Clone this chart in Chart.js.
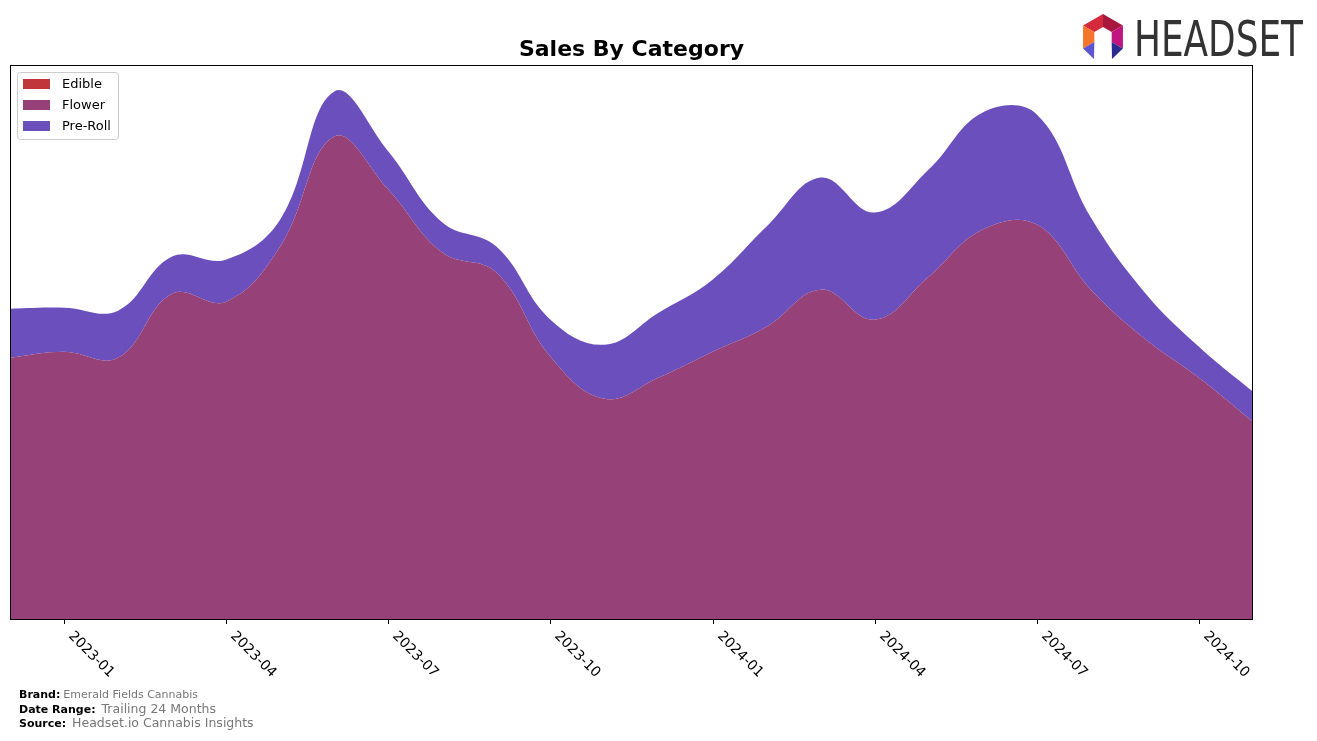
<!DOCTYPE html>
<html>
<head>
<meta charset="utf-8">
<title>Sales By Category</title>
<script src="https://cdn.jsdelivr.net/npm/chart.js@4.4.1/dist/chart.umd.min.js"></script>
<style>
  body { margin: 0; background: #fff; }
  canvas { display: block; }
</style>
</head>
<body>
<canvas id="salesChart" width="1317" height="741"></canvas>
<script>
// monthly points, Dec 2022 .. Nov 2024
var months = ['2022-12', '2023-01', '2023-02', '2023-03', '2023-04', '2023-05', '2023-06', '2023-07',
              '2023-08', '2023-09', '2023-10', '2023-11', '2023-12', '2024-01', '2024-02', '2024-03',
              '2024-04', '2024-05', '2024-06', '2024-07', '2024-08', '2024-09', '2024-10', '2024-11'];
var tickMonths = ['2023-01', '2023-04', '2023-07', '2023-10', '2024-01', '2024-04', '2024-07', '2024-10'];

var edible  = [0, 0, 0, 0, 0, 0, 0, 0, 0, 0, 0, 0, 0, 0, 0, 0, 0, 0, 0, 0, 0, 0, 0, 0];
var flower  = [262, 268, 262, 326, 318, 373, 483, 430, 367, 347, 263, 221,
               242, 268, 293, 330, 300, 343, 390, 395, 330, 281, 242, 198];
var preRoll = [49, 44, 47, 37, 42, 27, 45, 38, 30, 26, 37, 54,
               65, 72, 100, 112, 107, 107, 117, 110, 72, 46, 31, 30];

var seriesNames = ['Edible', 'Flower', 'Pre-Roll'];

var footerRows = [
  ['Brand:', 'Emerald Fields Cannabis'],
  ['Date Range:', 'Trailing 24 Months'],
  ['Source:', 'Headset.io Cannabis Insights']
];

var totals = flower.map(function (v, i) { return v + preRoll[i] + edible[i]; });
var yTop = Math.max.apply(null, totals) * 1.05;

function drawLogo(ctx) {
  var cx = 1103, cy = 37, R = 23, r = 10;
  function pt(rad, deg) {
    var a = deg * Math.PI / 180;
    return [cx + rad * Math.cos(a), cy + rad * Math.sin(a)];
  }
  function face(a1, a2, color) {
    var p = [pt(R, a1), pt(R, a2), pt(r, a2), pt(r, a1)];
    ctx.fillStyle = color;
    ctx.beginPath();
    ctx.moveTo(p[0][0], p[0][1]);
    for (var i = 1; i < p.length; i++) ctx.lineTo(p[i][0], p[i][1]);
    ctx.closePath();
    ctx.fill();
  }
  face(210, 270, '#d42a3c');
  face(270, 330, '#a8183e');
  face(150, 210, '#f4762a');
  face(330, 390, '#c0157e');
  // legs
  var ll = pt(R, 150), li = pt(r, 150), rl = pt(R, 30), ri = pt(r, 30);
  ctx.fillStyle = '#5b55d2';
  ctx.beginPath();
  ctx.moveTo(ll[0], ll[1]); ctx.lineTo(li[0], li[1]); ctx.lineTo(cx - 9, cy + 22); ctx.closePath(); ctx.fill();
  ctx.fillStyle = '#2c2a8e';
  ctx.beginPath();
  ctx.moveTo(rl[0], rl[1]); ctx.lineTo(ri[0], ri[1]); ctx.lineTo(cx + 9, cy + 22); ctx.closePath(); ctx.fill();

  ctx.fillStyle = '#333333';
  ctx.font = '50px "Liberation Sans Narrow", "DejaVu Sans Condensed", sans-serif';
  ctx.textAlign = 'left';
  ctx.textBaseline = 'alphabetic';
  ctx.fillText('HEADSET', 1134, 56, 169);
}

var decorations = {
  id: 'decorations',
  afterDraw: function (chart) {
    var ctx = chart.ctx, area = chart.chartArea, xs = chart.scales.x;
    ctx.save();

    // frame
    ctx.strokeStyle = '#000';
    ctx.lineWidth = 1;
    ctx.strokeRect(area.left + 0.5, area.top + 0.5, area.right - area.left - 1, area.bottom - area.top - 1);

    // x ticks and rotated labels
    ctx.font = '14px "DejaVu Sans"';
    ctx.fillStyle = '#000';
    ctx.textAlign = 'left';
    ctx.textBaseline = 'top';
    tickMonths.forEach(function (m) {
      var px = Math.round(xs.getPixelForValue(months.indexOf(m))) + 0.5;
      ctx.beginPath();
      ctx.moveTo(px, area.bottom);
      ctx.lineTo(px, area.bottom + 4);
      ctx.stroke();
      ctx.save();
      ctx.translate(px + 11, area.bottom + 9);
      ctx.rotate(Math.PI / 4);
      ctx.fillText(m, 0, 0);
      ctx.restore();
    });

    // title
    ctx.font = 'bold 22px "DejaVu Sans"';
    ctx.textAlign = 'center';
    ctx.textBaseline = 'middle';
    ctx.fillText('Sales By Category', (area.left + area.right) / 2, 50);

    // legend
    var lx = area.left + 7, ly = area.top + 7;
    ctx.fillStyle = 'rgba(255,255,255,0.8)';
    ctx.strokeStyle = '#cccccc';
    ctx.beginPath();
    ctx.roundRect(lx + 0.5, ly + 0.5, 101, 67, 3);
    ctx.fill();
    ctx.stroke();
    ctx.font = '13px "DejaVu Sans"';
    ctx.textAlign = 'left';
    chart.data.datasets.forEach(function (ds, i) {
      var ry = ly + 12 + i * 21;
      ctx.fillStyle = ds.backgroundColor;
      ctx.fillRect(lx + 6, ry - 5, 27, 10);
      ctx.fillStyle = '#000';
      ctx.fillText(ds.label, lx + 45, ry + 1);
    });

    // footer
    var fy = [695, 710, 724];
    var valueFonts = ['11px "DejaVu Sans"', '12.5px "DejaVu Sans"', '12.5px "DejaVu Sans"'];
    footerRows.forEach(function (row, i) {
      ctx.font = 'bold 11px "DejaVu Sans"';
      ctx.fillStyle = '#000';
      ctx.textBaseline = 'middle';
      ctx.fillText(row[0], 19, fy[i]);
      var w = ctx.measureText(row[0]).width;
      ctx.font = valueFonts[i];
      ctx.fillStyle = '#777777';
      ctx.fillText(row[1], 19 + w + (i === 0 ? 3 : 6), fy[i]);
    });

    drawLogo(ctx);
    ctx.restore();
  }
};

var ctx = document.getElementById('salesChart').getContext('2d');
var salesChart = new Chart(ctx, {
  type: 'line',
  data: {
    labels: months,
    datasets: [{
      label: seriesNames[0],
      data: edible,
      backgroundColor: '#c0363b',
      borderWidth: 0,
      fill: 'origin'
    }, {
      label: seriesNames[1],
      data: flower,
      backgroundColor: '#964177',
      borderWidth: 0,
      fill: '-1'
    }, {
      label: seriesNames[2],
      data: preRoll,
      backgroundColor: '#6a4fbd',
      borderWidth: 0,
      fill: '-1'
    }]
  },
  options: {
    responsive: false,
    animation: false,
    events: [],
    layout: { padding: { left: 10, right: 64, top: 65, bottom: 121 } },
    elements: {
      line: { tension: 0.4 },
      point: { radius: 0 }
    },
    plugins: {
      legend: { display: false },
      title: { display: false },
      tooltip: { enabled: false }
    },
    scales: {
      x: { display: false, offset: false },
      y: { display: false, stacked: true, min: 0, max: yTop }
    }
  },
  plugins: [decorations]
});
</script>
</body>
</html>
